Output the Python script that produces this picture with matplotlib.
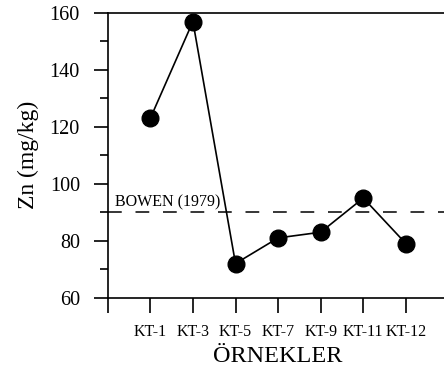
# Zn concentration per sample, compared with the Bowen (1979) reference value

import matplotlib.pyplot as plt
from matplotlib.ticker import MultipleLocator

samples = ["KT-1", "KT-3", "KT-5", "KT-7", "KT-9", "KT-11", "KT-12"]
zn_values = [123, 157, 72, 81, 83, 95, 79]
bowen_value = 90

plt.rcParams['font.family'] = ['Liberation Serif', 'DejaVu Serif']

fig = plt.figure(figsize=(4.44, 3.71), dpi=100)
ax = fig.add_axes([107.7 / 444, 1 - 297.7 / 371, 340.8 / 444, 284.7 / 371])

positions = list(range(1, len(samples) + 1))
ax.plot(positions, zn_values, color="black", linewidth=1.2,
        marker="o", markersize=12, zorder=3)
ax.axhline(bowen_value, color="black", linewidth=1.1, linestyle=(0, (9, 9)))
ax.text(0.17, bowen_value + 0.8, "BOWEN (1979)", fontsize=11.5, va="bottom", ha="left")

ax.set_xlim(0, 8)
ax.set_ylim(60, 160)
ax.set_xticks([0] + positions)
ax.set_xticklabels([""] + samples, fontsize=11.5)
ax.yaxis.set_major_locator(MultipleLocator(20))
ax.yaxis.set_minor_locator(MultipleLocator(10))
ax.tick_params(axis="y", which="major", direction="out", length=10, width=1.2,
               labelsize=14.5, pad=10)
ax.tick_params(axis="y", which="minor", direction="out", length=6, width=1.2)
ax.tick_params(axis="x", which="major", direction="out", length=11, width=1.2, pad=8)

ax.spines["right"].set_visible(False)
for side in ["left", "top", "bottom"]:
    ax.spines[side].set_linewidth(1.2)

ax.set_ylabel("Zn (mg/kg)", fontsize=17, labelpad=8)
ax.set_xlabel("ÖRNEKLER", fontsize=17.5, labelpad=4)

fig.savefig("out.png", dpi=100)
